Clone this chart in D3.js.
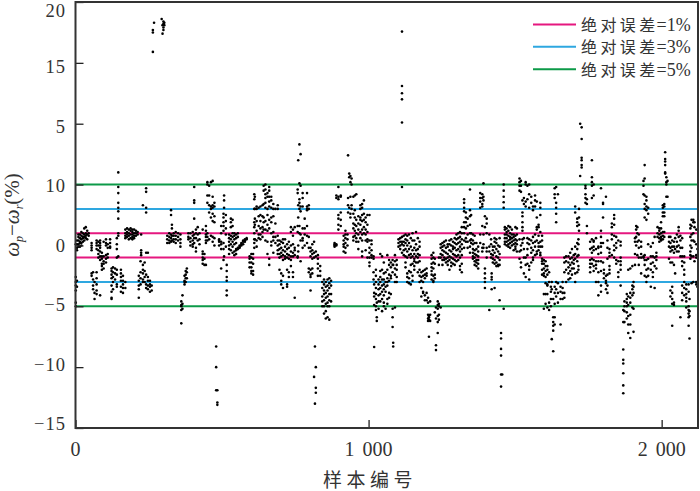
<!DOCTYPE html>
<html><head><meta charset="utf-8">
<script src="https://d3js.org/d3.v7.min.js"></script>
<style>html,body{margin:0;padding:0;background:#fff}svg{display:block}text{font-family:"Liberation Serif","Noto Sans CJK SC",serif;fill:#333}</style>
</head><body><div id="c"></div>
<script>
const yTickValues=[20,15,10,5,0,-5,-10,-15];
const yTickLabels=["20","15","5","10","0","−5","−10","−15"];
const xTickValues=[0,1000,2000];
const xTickLabels=["0","1 000","2 000"];
const errorLevels=[1,3,5];
const errorColors=["#e5177f","#2ea7e0","#0c9a48"];
const legendNames=["绝对误差","绝对误差","绝对误差"];
const legendValues=["=1%","=3%","=5%"];
const xTitle="样本编号";
// [sample number, [ωp−ωr values]]
const samples=[
[1,[0.1,-2.6,-3,-3.3,-3.7,-4.7,-5]],[5,[.4,.1,-.2,-.4,-2.9,-3.4]],[10,[.7,.4,.1,-.1,.9]],[15,[.9,.6,.3,.2,-.1]],[20,[1.1,.8,.5,.2,0]],[25,[1,.7,.6,.3]],[30,[1.4,.9,.7,.4]],[35,[1.5,1,.8,.6]],[40,[1.2,.9,.5]],[45,[1,.8]],
[55,[.2,0,-.2,-.4,-2.3,-2.5]],[60,[-2.2,-2.8,-3.3,-3.6]],[65,[-3,-3.9,-4.4]],[72,[.4,.2,0,-.3,-2.2,-2.7,-3.2,-3.7,-4]],[78,[.3,0,-.4,-.7,-1]],[84,[.4,.2,0,-.2,-.5,-.9,-1.2,-4.1]],[90,[-.6,-.9,-1.1,-1.5,-1.7,-2]],[96,[.3,-.9,-1.3,-1.5,-1.9]],[104,[.5,.2,0,-.8,-1.1,-1.4]],[110,[.1,-.2,-.7,-1]],[118,[.5,.2,-.1,-.2]],
[123,[-1.9,-2.1,-2.4,-2.7,-3.3,-3.8,-4.3,-4.4]],[128,[-1.8,-2.2,-2.6,-3,-3.6]],[135,[-1.9,-2.3,-2.8]],[141,[.1,-.3,.6,-1,-2,-2.4,-3.2,-3.4]],[146,[6,4.8,4.3,3.5,3.1,2.8,2.2,1,.8,-.9]],[155,[-2,-2.3,-2.6,-2.9,-3.4,-3.8]],[162,[-2.5,-2.9,-3.2,-3.5,-3.9]],[170,[1.3,1,.8,.6,-3,-3.5]],
[176,[1.4,1.1,.9,.7]],[182,[1.3,1,.8,.5]],[188,[1.4,1.2,.9,.6]],[194,[1.3,1.1,.9,.7,.5]],[200,[1.3,1,.8,.6]],[206,[1.2,1,.8]],[212,[1.1,.9]],[216,[-2.5,-2.9,-3.3,-3.6,-4.3]],[222,[-1.3,-2.2,-2.7,-3.2]],[224,[.9,-.4,-.6,-.8]],[230,[3.3,-1.6,-2,-2.3,-2.8,-3]],[236,[-1.4,-2.1,-2.6,-3]],[241,[4.7,4.4,3.1,2.7,-.6,-2.4,-3.2,-3.5]],[247,[-.6,-2.6,-2.9,-3.3,-3.6]],[254,[-2.9,-3.2,-3.4,-3.8]],[260,[-3.3,-3.7]],
[264,[15.9,17.5,17.7]],[268,[18.3]],[294,[18.6]],[297,[17.4,18.1]],[300,[18.4,18.2,17.9,17.7]],[303,[18.3,18.1]],
[313,[.8,.5,.2]],[320,[1,.7,.4,.2]],[326,[2.9,2.5,.9,.6,.3]],[329,[1.7,1.4,.8,.4]],[335,[1,.8,.5,.3]],[342,[1.1,.8,.5,.2]],[350,[1,.7,.4]],[358,[.9,.5,.2,-.1]],[361,[-4.6,-4.9,-5,-5.3,-6.4]],[365,[-4.1,-4.8,-5.2]],[372,[-2.5,-2.9,-3,-3.2]],[376,[-2.1,-2.4,-2.7,-3]],[380,[-1.9,-2.2,-2.7]],
[385,[1,.7,.5]],[392,[1,.6,.3,0]],[400,[1.1,.8,.4,.1,-.1]],[405,[4.8,3.7,3.5,2.2,.9,.6,.2]],[411,[1.3,1,.6,-.2,-.5]],[417,[1.5,.9,.4]],[423,[1,.5,.1]],
[434,[-.5,-.7,-1,-1.2,-1.5,1.3]],[440,[-.7,-1.1,-1.6]],[445,[1.6,1.2,.9,.7,.4,.2,-1.6]],[450,[5.2,5,4.1,3.5,1,.7,.4]],[456,[4.9,4.1,3.3,2.7,.5]],[462,[5.2,3.2,3,2.3,.8]],[468,[5.3,4,3.3,3.1,2.6,2,.7,.3]],[474,[3.5,3.2,2.4,1.9,.6,0]],[480,[-8.3,-10,-11.9]],[484,[-12.9,-13.1,-11.9]],
[490,[.5,.4,.3,0]],[497,[1.6,1,.3,.1,-.3,-1.9]],[505,[2.6,2.3,1.9,1.6,1.2,.2,-.3,-1.2]],[507,[4.1,3.7,3.1,-.9]],[513,[2.5,2,1.4,.9,-.1]],[516,[-1.6,-2.1,-2.6,-2.9,-3.7,-4.1]],[524,[.9,.6,.3,0,-.3,-.7]],[530,[2.2,1.9,1.5,.8,.5,.1,-.4]],[536,[2.1,1.6,1,.7,.3,-.1,-.6]],[542,[1,.8,.5,.1,-.5,-.8]],[548,[.9,.6,.2,-.3,-.4,-.7]],[554,[1,.7,-.3,-.2]],[560,[-.1,-.2,0]],[566,[0,.1,.2]],[572,[.1,.3,.4]],[578,[.3,.4,.5]],[584,[.5,.6]],
[594,[-.9,-1.1,-1.4,-1.8]],[600,[-.7,-1,-1.4,-1.8,-2.1,-2.3]],[606,[-.7,-1.1,-1.5,-2.1,-2.4]],[610,[4.2,3.8,3,1.9,1.5,1,.5,.2,-.2]],[612,[4,3,2.2,1.7,.5]],[618,[3.2,3,2,1.2,.4,-.1]],[625,[3.1,2.4,1.6,.9,.6]],[631,[3.2,2.5,2,1.4,.9,.5]],[638,[3.3,2.4,1.5,1.1,.7]],[642,[4.9,4.5,3.4,2.3,1.9,1.3]],[648,[5,4.6,4.2,3.9,3.5,3.1,2,1.3,.4]],[655,[4.3,4,3,2.5,1.7,1.2,.3,-.7]],[661,[4.8,4.5,4,3.6,3.2,2.1,1.4,-1.1,-1.6]],[668,[4,3.7,3.1,2.3,1.9,1,.3,0]],[675,[3.4,3,2.4,1.1,.7,.4,-.6]],[682,[3,1.8,.7,.2]],[690,[3.3,3,.8,.4,0,-.4,-.7]],
[696,[.4,.1,-.3,-.7,-1,-2]],[702,[.3,-.2,-.6,-.9,-2.3,-2.9,-3.2]],[708,[.5,.2,-.4,-.8,-1.2,-2.5,-3.5]],[715,[.5,-.1,-.5,-.9,-1.1]],[722,[.1,-.3,-.7,-1,-3.2,-3.4,-2]],[728,[.3,-.2,-.8,-1.1,-2.2,-2.6]],[735,[1.5,1.1,0,-.5,-.9,-1.2,-1.7]],[742,[.8,1.3,.1,-.6,-.9,-2.2,-2.6]],[748,[1.5,-.2,-.4,-.8,-4.3]],
[758,[4.6,4.3,1.6,1.1,-.9,-1]],[760,[7,3.3,2.3,0,-.5]],[764,[8.3,5.1,3.8,3.5,3,1.6,1]],[768,[7.5,4.9,3.2,2.8,.9,.4,-1.3]],[775,[4.3,3.9,3.2,1.4,.6,.4,-.2]],[782,[2.2,1.4,.9,0]],[790,[4.3,3.2,3,2.9,1.6,.8,.2]],[796,[3.3,3,.7,-.2,-1.9,-2.2]],[802,[-.2,-.5,-.9,-2,-2.4,-2.6,-3.7]],[808,[.1,-.4,-.7,-1.1,-1.9,-2.3]],[814,[-10.8,.3,-.6,-1]],[817,[-8.3,-13]],[820,[-10,-11.7,-12.1,-.5,-.9]],[827,[-1.5,-1.9,-2.5,-.8,-1.1]],[835,[-1.7,-2.1,-2.5]],
[842,[-3,-3.5,-4.2,-4.6,-5]],[848,[-2.8,-3.2,-3.7,-4,-4.5,-5,-5.6]],[854,[-3,-3.4,-3.9,-4.3,-4.8,-5.4,-6]],[860,[-2.8,-3.3,-3.7,-4.2,-4.7,-5,-5.9]],[866,[-2.7,-3.1,-3.5,-4,-4.5,-5,-6.1]],[872,[-2.9,-3.3,-4,-4.6]],
[884,[.1,.2,0,-.1]],[890,[.1,0,4.1,3.9]],[897,[4.8,4,3.8,2.5,2.2,1.7,1.3]],[905,[4,4.1,2.7,2.1,1.6]],[915,[.8,.4,.1,-.1,-.5]],[921,[1.2,.9,.6,.2,-.2,-.6]],[928,[.9,.5,0]],[930,[7.4,3.9,3.3,2.7]],[934,[5.9,5.6,3.1]],[938,[5.7,5.2,4,2.6,2.3]],[942,[5.5,5,3.3,3]],[948,[4,2.6,1.8,1.4,.7,.4]],[953,[4.1,2.9,2.3,1.7,1.2,.8]],[958,[4.2,2.1,1.6,1,.6,.3]],[965,[2.4,1.8,1.3,.9,.3,-.3]],[972,[3.3,3,2.3,2.1,1.7,1.1,.6]],[978,[3.4,3.1,2.5,2,1.3,.9,.4,-.5,-.9]],[984,[3.7,2.6,2.1,1.5,1]],[990,[2.3,1.9,1.3,.9,-.4,.4]],[996,[2.5,1.7,1.1,.5,.3,-1]],[1003,[2.5,.4,-.2,-.6,-1,-1.4,-1.7]],[1010,[.4,.1,-.4,-.8,-1]],[1017,[-.9,-1.1,-2.2,-2.8]],
[1019,[-3.2,-3.9,-4.2,-4.9,-8.35]],[1025,[-2,-2.5,-3,-3.5,-4,-4.4,-5,-5.3]],[1028,[-5.9,-6.2,-4.7]],[1034,[-2.8,-3.2,-3.6,-4.1,-4.6,-5.2]],[1040,[-.7,-2.1,-2.6,-3,-3.5,-4,-4.6]],[1046,[-.9,-2,-2.8,-3.3,-3.8,-4.4,-5.4]],[1052,[-1.4,-2.3,-2.8,-3.2,-3.6,-4.1,-4.7,-5]],[1058,[-2.2,-3,-3.4,-3.8,-5.2]],[1064,[-.8,-2,-2.7,-3,-3.3,-4.4,-4.8]],[1070,[-1.2,-1.6,-2.4,-2.9,-3.9,-4.3]],[1076,[-1.4,-1.8,-2.5,-2.7,-4]],[1082,[-1.2,-1.6,-2.2,-5.9,-6.7,-5.2]],[1084,[-8,-8.3,-1.6]],[1090,[-.8,-1.3,-1.9,-2.4,-3,-5.1]],[1096,[-1.2,-1.6,-2,-2.6,-3]],
[1102,[.5,.2,-.1]],[1108,[.6,.3,0,-.3]],[1114,[17.57,13.1,12.5,12,10.1,4.8,.7,.3,.1,-.6]],[1120,[.8,.3,0,-.4,-.8]],[1126,[.9,.5,.2,-.3,-.9,-1.4,-1.8]],[1132,[.8,.4,0,-.5,-1,-2.3,-2.6,-3]],[1138,[.9,.2,-.3,-.8,-2.1,-2.7,-3.1]],[1144,[.6,-.1,-.7,-1,-1.6,-2.2,-3.2]],[1150,[1,.4,-.4,-.9,-1.5,-2.5,-2.9]],[1156,[.4,-.2,-.7,-1.1,-1.3,-1.7,-2]],[1162,[1.1,.1,-.4,-.9,-1.4]],[1168,[.6,-.3,-.7,-1,-1.4,-2.2]],[1174,[.3,-.1,-.8,-1.3,-2,-2.5,-3]],[1180,[-2.2,-2.6,-2.9,-3.5,-4.2]],[1186,[-2.1,-2.5,-3,-3.8,-3.9]],[1192,[-2,-2.4,-2.7,-4.1,-4.5]],[1198,[-1.9,-2.3,-2.5,-3.9,-4.5]],[1203,[-4.3,-4.7,-5.7,-6,-6.2]],[1206,[-5.8,-6.1,-7.5,-5.9]],[1210,[-5.7,-6.2,-4.6]],
[1215,[-.8,-1.1,-1.5,-1.8,-2.1,-2.4,-2.8]],[1221,[-.6,-1,-1.4,-1.9,-2.5,-2.9,-3]],[1226,[-1.1,-1.5,-2.4,-2.7,-5.5]],[1230,[-8.2,-8.6,-6,-5.1]],[1236,[-4.6,-4.9,-5.2,-5.8,-6.3,-7.2]],[1240,[-1,-1.6,-5,-5.7,-6.1,-4.8]],[1246,[.1,-.2,-.7,-1,-5.1]],[1252,[.2,-.1,-.4,-.8,-1.2,-1.6]],[1258,[.3,0,-.5,-1,-1.2]],[1264,[.4,-.2,-.6,-1.1,-1.4]],[1270,[.1,-.1,-.7,-1,-1.3,-1.6]],[1276,[.4,.1,-.4,-.9,-1.2,-2]],[1282,[.5,0,-.5,-1,-1.4,-1.7]],[1288,[.3,-.1,-.3,-.7,-1.1,-1.5]],[1294,[.6,.2,-.2,-.8,-1.2,-1.6]],[1300,[.9,.5,.1,-.4,-.9,-1.3]],[1306,[1,.6,.2,-.3,-.8,-1.2]],[1312,[1.1,.7,.3,-.1,-.5,-1,-1.7,-2]],
[1318,[1.5,1,.5,.1,-.3,-.8,-1.5,-2.2]],[1326,[3.8,3.5,3.1,2.8,1.9,1.5,1,.4,-.2]],[1332,[2.7,2.3,1.9,1.4,.6,.3]],[1338,[2.2,1.6,.9,.3,-.2]],[1346,[4.6,2.9,2.4,1.7,1,.4,-.1,-.6]],[1350,[2.5,1,.5,.2]],[1356,[.9,.4,.1,-.3,-.6,-.9,-1.1]],[1362,[.8,.2,-.4,-.7,-1,-1.3,-1.6]],[1368,[.2,-.3,-.8,-1.2,-1.4,-1.7]],[1374,[-.1,-.5,-.9,-1.2,-1.5,-1.9]],
[1381,[4.3,3.9,3.6,3.1,.9,.2]],[1388,[4.2,3.9,3.4,3.2,1.6,-.2,-.5]],[1392,[5.1,4,3.7,.9,.1,-.2]],[1397,[2.4,1.5,-1.9,-2.3,-2.7,-3,-3.5]],[1403,[2.2,1.8,1,-.2,-.5,-1]],[1412,[.9,-.1,-.5,-5.3]],[1418,[.5,.1,-.7,-1]],[1420,[-2.3,-2.6,-2.8,-3.6]],[1424,[-.1,-.4,-.8,-1.1,-1.4]],[1430,[.6,.3,-.1,-.6,-1.2,-1.5,-3.5]],[1436,[.5,.2,-.3,-.9,-1.4,-1.7]],[1442,[0,-.5,-1,-1.6,-1.7]],[1447,[.6,-.1,-.7,-1.2,-1.6,-4.5]],
[1452,[-7.2,-7.65,-8.5,-9.05,-10.6,-11.6]],[1456,[-10.6]],[1461,[5,4.5,4,3.55,3.1,-5.2]],[1465,[1.5,1.3,.9,.6,.3,.1]],[1471,[1.4,1.1,.9,.6,.3,0]],[1477,[1.6,1.2,.8,.4,.1,-.1]],[1483,[1.5,1,.7,.5,.2,-.2]],[1489,[1.3,.9,.6,.3,0]],[1495,[.9,.7,.4,.1,-.4]],[1501,[1.5,.8,.5,.2,-.1,-.3]],[1506,[1.4,.9,.4,.1,-.5]],
[1515,[5.5,5.2,4.9,4.5,.5,-.5,-1.1]],[1520,[5.3,4.9,4.4,0,-.4,-1.4,-1.8]],[1525,[3.7,2.7,2.4,1.9,1.5,1.2,.5,.2]],[1530,[3.9,3.4,.6,-.3,-1,-2.3]],[1536,[5.2,5,3.6,3.2,-1,-1.6,-2.6]],[1542,[4.9,3.8,.6,.2,-.3,-.8,-1.5]],[1548,[5,4.2,3.1,.5,.1,-1.7,-2,-2.8]],[1555,[4,3.5,.4,-.2,-.6,-1.4]],[1561,[3.2,2.9,.7,.2,-.4,-1,-1.2]],[1568,[4.1,3.7,3.2,.9,.3,-.1,-.8]],[1574,[3.6,2.3,1.5,1.3,.4,-.5,-.7]],[1580,[1.7,1.5,.8,.2,-.4,-.1]],[1586,[3.5,3.1,2.5,1.1,.3,-.1,-.6,-.8]],
[1592,[.8,.4,-.1,-1.1,-1.3,-1.5,-2,-2.4]],[1598,[-1.2,-1.5,-1.9,-2.3,-2.5,-4,-5.2]],[1604,[-1.3,-1.7,-2.1,-2.6,-3.1,-4,-4.8]],[1610,[-1.7,-2,-2.4,-3.2,-3.3,-4,-5.1]],[1616,[-2.2,-3,-4.7,-5.3]],[1622,[-3.4,-3.8,-4.4,-5]],[1625,[-7.7,-3,-3.6]],[1630,[-8.7,-5.9,-6.3,-6.6,-7,-4.4]],[1635,[4.7,4.2,3.9,-3.4,-3.9,-4.8,-5.9,-6.5]],[1640,[4.8,3.5,3.1,2.6,1.9,-3,-3.6,-4.2]],[1646,[4.2,-3.1,-3.9,-4.7]],[1655,[-6.5,-3.4,-3.8,-4.4]],[1662,[-3,-3.5,-3.9,-4.4]],[1668,[-1,-1.4,-2.2,-3.9,-4.3]],[1674,[-.9,-1.3,-2,-3]],
[1682,[-.9,-1.4,-1.8,-2.3,-2.8]],[1688,[-.6,-1.1,-1.6,-2.1,-2.7]],[1694,[-.3,-1,-1.4,-1.9,-2.4]],[1700,[-.8,-1.2,-1.5,-1.9]],[1705,[3.2,2.7,-.1,-.7,-1.1,-2.3,-3]],[1712,[2.2,1.9,1.6,.2,-.3,-.9,-1.3,-2.2]],[1716,[.5,.1,-.8,-1.7,-2]],[1718,[3,2.3,1.7,1.2]],[1722,[10,5.7]],[1727,[9.7,8.75,7.2,7,6.6,6.4]],[1740,[4.9,4.7,4.2,3.9,3.5]],[1745,[3.8,3.4,1.6,1]],
[1756,[-.3,-1.2,-1.5,-1.8,-2.2,.3]],[1762,[7,5.6,5.2,4.9,3.9,.5,-.2,-.6,-1.1,-1.5]],[1768,[5,4.1,.4,.3,-.1,-.4,-1.2,-1.7,-2.1]],[1776,[.6,-.3,-1.3,-1.6,-1.9,-3]],[1784,[-.1,-.2,-.7,-1.3,-2.2,-3,-4.1]],[1793,[4.7,1.2,.7,.2,-.1,-.6,-1.3,-2.1,-3.3,-3.8]],[1800,[3.5,3.4,2.3,.2,-1.4]],[1803,[-2,-2.3,-2.7]],[1810,[4,-2.5,-2.9,-3.1,-3.6]],[1815,[.4,-.2,-1.1,-2.4,-3.3,-3.9]],[1822,[-.6,-.3,-.9,-1.7,-2,-2.3]],[1830,[1.8,1.5,.9,.5,-.8]],[1838,[2.5,2.2,1.7,.8,0,-.4,-1]],[1845,[.7,.2,-.2,-1.2,-1.5]],[1852,[-1.3,.4,-2.2,-2.6]],[1860,[.3,0,-1,-1.3,-1.6,-2,-3.3]],
[1869,[-8.55,-9.4,-9.7,-10.5,-11.5,-12.15,-6.3,-5.3]],[1873,[-5,-4.6,-5.4,-6.3]],[1881,[-4,-4.4,-4.7,-5,-5.5,-6]],[1886,[-2,-4.2,-4.9,-5.8,-6.5,-7.2]],[1893,[-1.9,-3.9,-4.3,-4.7,-5.7,-6.5,-7.6]],[1900,[-1.7,-3.3,-3.6,-4.1,-5.1]],[1904,[-3,-3.4,-3.9,-5.2,-7.1]],
[1909,[.6,.3,-.7,-1.6]],[1913,[1.6,1.3,.7,0]],[1917,[1.5,1,.3,-.8]],[1922,[.9,.4,-.2,-1,-1.6]],[1930,[.3,-.1,-.7,-1,-2.3]],[1938,[5.3,4.9,4.2,-.9,-1]],[1942,[6.6,5.5,4.1,3.4,3,2.3,-.8,-1.2,-1.6,-2.5]],[1948,[4,3.7,3.2,2.9,2.1,-1.2,-2,-2.6,-3]],[1954,[3.1,2.6,.1,-1.1,-1.9,-2.5]],[1963,[-.1,-.9,-1.5,-2,-3.4]],[1970,[.2,-.9,-1.4,-2.2,-2.6]],[1976,[.7,-1,-1.7,-3.5]],[1982,[-.6,-.9,-1.2,-1.9]],[1986,[1.5,1,.7]],[1992,[1.4,1.2,.9,.6,.3]],[1998,[1.4,1,.7,.5,.4,1.9]],[2004,[3.3,3.1,2.7,2.4,1.1,.8,.5]],[2009,[3.4,3.2,2.7,2.4,1.1,.7]],[2012,[7.65,7.1,6.9,6.6,6,5.9]],[2016,[5.6,5.2,5,4]],[2020,[4,5.3]],[2025,[.7,.3,-.1,-1.1]],
[2030,[.7,.2,-.2,-.5,-1.4,-3.7,-4.2]],[2036,[.4,-.1,-.4,-1.4,-3.4,-3.9,-4.4,-4.8,-6.6]],[2042,[.3,-.1,-.6,-1.6,-4.7,-4.9]],[2046,[.6,-.3,-2.3]],[2052,[.9,.3,-.1,-.5]],[2058,[1.5,1.2,.7,0,-.5]],[2064,[.8,.4,-.2,-.9,-5.9]],[2070,[.6,-.2,-.9,-1.3,-1.7,-3.3,-3.9,-4.5]],[2077,[-.9,-1.4,-2,-2.4,-3,-3.5,-4.1]],[2084,[-3.2,-3.6,-4,-4.3,-4.6,-5.1]],[2092,[-3.2,-3.8,-5,-5.3,-5.6,-5.9,-6.6]],[2095,[-4.4,-5.4,-5.8,-7.65]],[2098,[1.7,1.4,.7,0,-.5,-.8,-1.1]],[2102,[2.1,1.6,.9,.4,-.2,-.9,-3.1]],[2108,[2.1,1.9,1,.4,-.9,-3]],[2112,[1.9,1.5,.3,-1.3]],[2118,[1.3,.1,-.8,-1,-3,-3.2]],[2122,[-3.4,-.3]]
];

const W=700,H=491,plotLeft=75.5,plotRight=698,plotTop=2,plotBottom=428;
const svg=d3.select("#c").append("svg").attr("width",W).attr("height",H);
const x=d3.scaleLinear().domain([0,2124]).range([plotLeft,plotRight]);
const y=d3.scaleLinear().domain([-15,20]).range([plotBottom,plotTop]);
const yLabelPos=d3.scaleLinear().domain([-15,15,20]).range([424,67,10.5]);
const points=samples.flatMap(([s,vals])=>vals.map(v=>({s,v})));

// error lines (both signs)
const levels=errorLevels.flatMap((e,i)=>[{v:e,i},{v:-e,i}]);
svg.append("g").selectAll("line").data(levels).join("line")
 .attr("x1",plotLeft).attr("x2",plotRight).attr("y1",d=>y(d.v)).attr("y2",d=>y(d.v))
 .attr("stroke",d=>errorColors[d.i]).attr("stroke-width",2);

// points
svg.append("g").selectAll("circle").data(points).join("circle")
 .attr("cx",d=>x(d.s)).attr("cy",d=>y(d.v)).attr("r",1.3).attr("fill","#000");

// axes
const axisY=d3.axisLeft(y).tickValues(yTickValues).tickSize(-8).tickFormat("");
const axisX=d3.axisBottom(x).tickValues(xTickValues).tickSize(-8).tickFormat("");
const gy=svg.append("g").attr("transform",`translate(${plotLeft},0)`).call(axisY);
const gx=svg.append("g").attr("transform",`translate(0,${plotBottom})`).call(axisX);
[gy,gx].forEach(g=>{g.select(".domain").remove();g.selectAll("line").attr("stroke","#222").attr("stroke-width",1.3);});
svg.append("rect").attr("x",plotLeft).attr("y",plotTop).attr("width",plotRight-plotLeft).attr("height",plotBottom-plotTop)
 .attr("fill","none").attr("stroke","#333").attr("stroke-width",2);

// tick labels
svg.append("g").selectAll("text").data(yTickValues).join("text")
 .attr("x",66).attr("y",d=>yLabelPos(d)).attr("dy","0.33em").attr("text-anchor","end")
 .attr("font-size",18.5).attr("letter-spacing",1).text((d,i)=>yTickLabels[i]);
svg.append("g").selectAll("text").data(xTickValues).join("text")
 .attr("x",d=>x(d)).attr("y",456).attr("text-anchor","middle")
 .attr("font-size",20).attr("word-spacing",3).text((d,i)=>xTickLabels[i]);

// x title
svg.append("text").attr("x",370).attr("y",487).attr("text-anchor","middle")
 .attr("font-size",19).attr("letter-spacing",4.5).text(xTitle);

// y title
const yt=svg.append("text").attr("transform","translate(19,215) rotate(-90)").attr("text-anchor","middle").attr("font-size",21);
yt.append("tspan").attr("font-style","italic").text("ω");
yt.append("tspan").attr("font-style","italic").attr("font-size",12).attr("dy",4).text("p");
yt.append("tspan").attr("dy",-4).text("−");
yt.append("tspan").attr("font-style","italic").text("ω");
yt.append("tspan").attr("font-style","italic").attr("font-size",12).attr("dy",4).text("r");
yt.append("tspan").attr("dy",-4).text("(%)");

// legend
const lg=svg.append("g").selectAll("g").data(legendNames).join("g")
 .attr("transform",(d,i)=>`translate(533,${24.4+i*22.4})`);
lg.append("line").attr("x1",0).attr("x2",43).attr("stroke",(d,i)=>errorColors[i]).attr("stroke-width",2);
const lt=lg.append("text").attr("x",48).attr("y",6.5);
lt.append("tspan").attr("font-size",16).attr("letter-spacing",3.4).text(d=>d);
lt.append("tspan").attr("font-size",18).attr("dx",-2).text((d,i)=>legendValues[i]);
</script></body></html>
